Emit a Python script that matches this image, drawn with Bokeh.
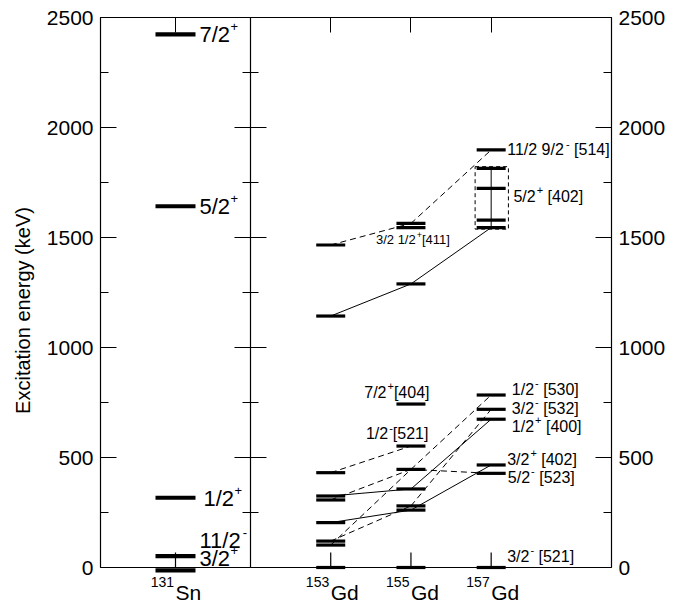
import numpy as np
from bokeh.plotting import figure
from bokeh.models import (ColumnDataSource, Range1d, LinearAxis, FixedTicker,
                          SingleIntervalTicker, Span)
from bokeh.layouts import row
from bokeh.embed import file_html
from bokeh.resources import INLINE
from bokeh.core.properties import value

# ---------------- data ----------------
y_max = 2500
y_tick_step = 500
y_axis_title = "Excitation energy (keV)"

# 131Sn
sn_mass = ["131"]
sn_symbol = ["Sn"]
sn_levels = [2423, 1642, 317, 52, -13]
sn_label_base = ["7/2", "5/2", "1/2", "11/2", "3/2"]
sn_label_sup = ["+", "+", "+", "-", "+"]
sn_label_energy = [2423, 1642, 315, 125, 43]

# Gd isotopes
gd_masses = [153, 155, 157]
gd_mass_text = ["153", "155", "157"]
gd_symbol = ["Gd", "Gd", "Gd"]
gd153_levels = [0, 102, 120, 204, 307, 325, 431, 1143, 1466]
gd155_levels = [0, 261, 280, 357, 446, 552, 743, 1289, 1545, 1564]
gd157_levels = [0, 428, 466, 674, 719, 784, 1545, 1579, 1723, 1814, 1898]

# orbitals followed through 153Gd, 155Gd, 157Gd
orb_e153 = [431, 307, 325, 204, 120, 102, 1143, 1466]
orb_e155 = [552, 446, 357, 261, 280, 446, 1289, 1564]
orb_e157 = [None, 428, 674, 466, 719, 784, 1545, 1898]
orb_dashed = [True, True, False, False, True, True, False, True]

# fragmented 5/2+[402] strength in 157Gd (boxed)
band157_levels = [1545, 1579, 1723, 1814]
band157_box = [1538, 1822]

# orbital labels: anchor isotope, energy, text pieces, font size
lab_anchor = [157, 157, 155, 155, 155, 157, 157, 157, 157, 157, 157]
lab_energy = [1898, 1685, 1489, 795, 607, 810, 723, 640, 492, 410, 49]
lab_base = ["11/2 9/2", "5/2", "3/2 1/2", "7/2", "1/2", "1/2", "3/2", "1/2", "3/2", "5/2", "3/2"]
lab_sup = ["-", "+", "+", "+", "-", "-", "-", "+", "+", "-", "-"]
lab_tail = ["[514]", "[402]", "[411]", "[404]", "[521]", "[530]", "[532]", "[400]", "[402]", "[523]", "[521]"]
lab_space = [True, True, False, False, False, True, True, True, True, True, True]
lab_size = [16, 16, 13, 16, 16, 16, 16, 16, 16, 16, 16]

# ---------------- layout / style ----------------
FONT = "Liberation Sans"
PX_PER_KEV = 0.22
FRAME_TOP = 17
FRAME_H = 586
Y_START = y_max - FRAME_H / PX_PER_KEV
LEFT_FRAME_W = 150
RIGHT_FRAME_W = 361
SN_X = 1.0
SN_PX_PER_UNIT = LEFT_FRAME_W / 2.0
GD_PX_PER_UNIT = RIGHT_FRAME_W / 9.0
lab_dx = [16, 22.3, -35, -46.7, -45, 20.7, 20.7, 20.7, 16, 16.7, 16]

ARIAL_W = {c: 0.556 for c in "0123456789"}
ARIAL_W.update({"/": 0.278, " ": 0.278, "[": 0.278, "]": 0.278, "+": 0.584, "-": 0.333,
                "G": 0.778, "d": 0.556, "S": 0.667, "n": 0.556})


def tw(s, size):
    return sum(ARIAL_W.get(c, 0.556) for c in s) * size


def make_fig(frame_w, x_range, mb_left, mb_right):
    p = figure(frame_width=frame_w, frame_height=FRAME_H, x_range=x_range,
               y_range=Range1d(Y_START, y_max), x_axis_location=None, y_axis_location=None,
               toolbar_location=None, output_backend="svg",
               min_border_left=mb_left, min_border_right=mb_right,
               min_border_top=FRAME_TOP, min_border_bottom=0)
    p.outline_line_color = None
    p.background_fill_color = "white"
    p.border_fill_color = "white"
    p.grid.visible = False
    return p


def y_axis(labels, label_text=None):
    ax = LinearAxis(ticker=SingleIntervalTicker(interval=y_tick_step, num_minor_ticks=2),
                    bounds=(0, y_max),
                    major_tick_in=16, major_tick_out=0, minor_tick_in=8, minor_tick_out=0,
                    axis_line_color="black", major_tick_line_color="black",
                    minor_tick_line_color="black", axis_line_width=1.2,
                    major_label_text_font=FONT,
                    major_label_text_color="black" if labels else None,
                    major_label_text_font_size="21px",
                    major_label_standoff=7 if labels else 0)
    if label_text:
        ax.axis_label = label_text
        ax.axis_label_text_font = FONT
        ax.axis_label_text_font_size = "20px"
        ax.axis_label_text_font_style = "normal"
        ax.axis_label_text_color = "black"
        ax.axis_label_standoff = 10
    return ax


def top_axis(ticks):
    return LinearAxis(ticker=FixedTicker(ticks=ticks, minor_ticks=[]),
                      major_tick_in=15, major_tick_out=0, minor_tick_line_color=None,
                      axis_line_color="black", axis_line_width=1.2, major_tick_line_color="black",
                      major_label_text_color=None, major_label_standoff=0)


def x_labels(p, xs, mass, sym):
    sup_y = -14.7 / PX_PER_KEV
    base_y = -25.3 / PX_PER_KEV
    src = ColumnDataSource(dict(x=xs, y=[sup_y] * len(xs), text=mass))
    p.text(x="x", y="y", text="text", source=src, text_align="right",
           text_baseline="middle", x_offset=-1.5, text_font=value(FONT),
           text_font_size="14px", text_color="black")
    src2 = ColumnDataSource(dict(x=xs, y=[base_y] * len(xs), text=sym))
    p.text(x="x", y="y", text="text", source=src2, text_align="left",
           text_baseline="middle", x_offset=0, text_font=value(FONT),
           text_font_size="21px", text_color="black")


TICK_KEV = 15 / PX_PER_KEV

# ---------------- left panel: 131Sn ----------------
pl = make_fig(LEFT_FRAME_W, Range1d(0, 2), 100, 0)
pl.add_layout(y_axis(True, y_axis_title), "left")
pl.add_layout(y_axis(False), "right")
pl.add_layout(top_axis([SN_X]), "above")
pl.add_layout(Span(location=0, dimension="width", line_color="black", line_width=1.2))

sn_half = 20 / SN_PX_PER_UNIT
pl.segment(x0=[SN_X - sn_half] * len(sn_levels), x1=[SN_X + sn_half] * len(sn_levels),
           y0=sn_levels, y1=sn_levels, line_width=4.2, line_color="black", line_cap="butt")
pl.segment(x0=[SN_X], x1=[SN_X], y0=[0], y1=[TICK_KEV], line_color="black", line_width=1.2)

sn_dx = [24, 24, 28, 24, 24]
sn_src = ColumnDataSource(dict(
    x=[SN_X] * len(sn_label_base), y=sn_label_energy, text=sn_label_base,
    dx=sn_dx, sup=sn_label_sup,
    sdx=[d + tw(b, 22) + 0.5 for d, b in zip(sn_dx, sn_label_base)],
))
pl.text(x="x", y="y", text="text", x_offset="dx", source=sn_src, text_font=value(FONT),
        text_font_size="22px", text_baseline="middle", text_align="left", text_color="black")
pl.text(x="x", y="y", text="sup", x_offset="sdx", y_offset=-8, source=sn_src,
        text_font=value(FONT), text_font_size="13px", text_baseline="middle",
        text_align="left", text_color="black")
x_labels(pl, [SN_X], sn_mass, sn_symbol)

# ---------------- right panel: Gd ----------------
pr = make_fig(RIGHT_FRAME_W, Range1d(151, 160), 0, 74)
pr.add_layout(y_axis(False), "left")
pr.add_layout(y_axis(True), "right")
pr.add_layout(top_axis(gd_masses), "above")
pr.add_layout(Span(location=0, dimension="width", line_color="black", line_width=1.2))

# orbital connection lines
for dashed in (True, False):
    xs, ys = [], []
    for e1, e2, e3, d in zip(orb_e153, orb_e155, orb_e157, orb_dashed):
        if d != dashed:
            continue
        es = [e1, e2, e3]
        for i in range(2):
            if es[i] is not None and es[i + 1] is not None:
                xs.append([gd_masses[i], gd_masses[i + 1]])
                ys.append([es[i], es[i + 1]])
    pr.multi_line(xs=xs, ys=ys, line_color="black", line_width=1,
                  line_dash="6 4" if dashed else "solid")

# band in 157Gd: vertical connector and dashed box
pr.segment(x0=[gd_masses[2]], x1=[gd_masses[2]], y0=[min(band157_levels)], y1=[max(band157_levels)],
           line_color="black", line_width=1)
pr.quad(left=[gd_masses[2] - 0.4], right=[gd_masses[2] + 0.43], bottom=[band157_box[0]],
        top=[band157_box[1]], fill_color=None, line_color="black", line_width=1, line_dash="4 3")

# level bars
gd_half = 14.5 / GD_PX_PER_UNIT
bx, by = [], []
for m, lev in zip(gd_masses, [gd153_levels, gd155_levels, gd157_levels]):
    for e in lev:
        bx.append(m)
        by.append(e)
pr.segment(x0=[m - gd_half for m in bx], x1=[m + gd_half for m in bx], y0=by, y1=by,
           line_width=3.2, line_color="black", line_cap="butt")
pr.segment(x0=gd_masses, x1=gd_masses, y0=[0] * 3, y1=[TICK_KEV] * 3, line_color="black",
           line_width=1.2)

# orbital labels
base_w = [tw(b, s) for b, s in zip(lab_base, lab_size)]
sup_size = [11 if s == 16 else 9 for s in lab_size]
lab_src = ColumnDataSource(dict(
    x=lab_anchor, y=lab_energy, base=lab_base, sup=lab_sup, tail=lab_tail,
    size=[f"{s}px" for s in lab_size], ssize=[f"{s}px" for s in sup_size],
    dx=lab_dx,
    sdx=[d + w + 1 for d, w in zip(lab_dx, base_w)],
    tdx=[d + w + 1 + tw(sp, ss) + (tw(" ", s) if gap else 0)
         for d, w, sp, ss, gap, s in zip(lab_dx, base_w, lab_sup, sup_size, lab_space, lab_size)],
    sdy=[-0.4 * s for s in lab_size],
))
pr.text(x="x", y="y", text="base", x_offset="dx", source=lab_src, text_font=value(FONT),
        text_font_size="size", text_baseline="middle", text_align="left", text_color="black")
pr.text(x="x", y="y", text="sup", x_offset="sdx", y_offset="sdy", source=lab_src,
        text_font=value(FONT), text_font_size="ssize", text_baseline="middle",
        text_align="left", text_color="black")
pr.text(x="x", y="y", text="tail", x_offset="tdx", source=lab_src, text_font=value(FONT),
        text_font_size="size", text_baseline="middle", text_align="left", text_color="black")

x_labels(pr, gd_masses, gd_mass_text, gd_symbol)

layout = row(pl, pr, spacing=0)
open("out.html", "w").write(file_html(layout, INLINE))
